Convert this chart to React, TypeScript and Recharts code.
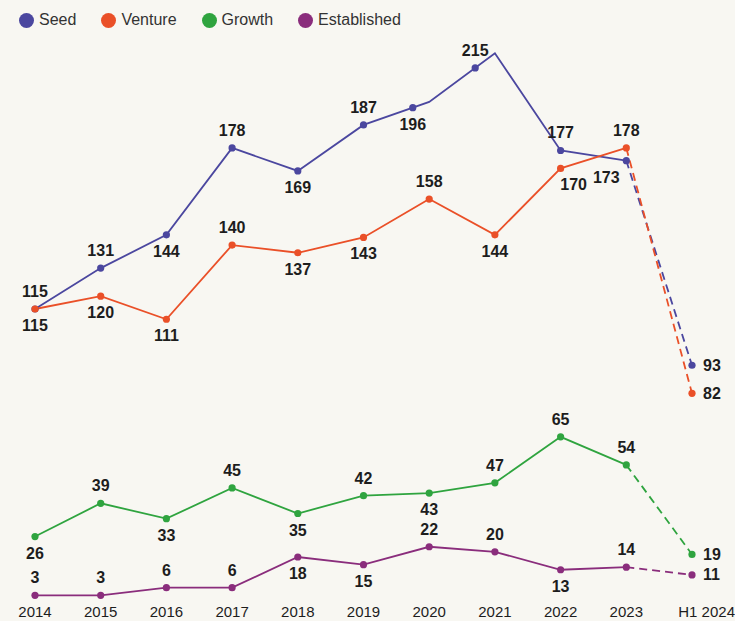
import React from "react";
import { LineChart, Line, XAxis, YAxis } from "recharts";

const years = ["2014", "2015", "2016", "2017", "2018", "2019", "2020", "2021", "2022", "2023", "H1 2024"];
const seed = [115, 131, 144, 178, 169, 187, 196, 215, 177, 173, 93];
const venture = [115, 120, 111, 140, 137, 143, 158, 144, 170, 178, 82];
const growth = [26, 39, 33, 45, 35, 42, 43, 47, 65, 54, 19];
const established = [3, 3, 6, 6, 18, 15, 22, 20, 13, 14, 11];

type Pos = "t" | "b" | "r" | "bl";

const SERIES = [
  { key: "seed", name: "Seed", values: seed, color: "#4b479f", pos: ["t", "t", "b", "t", "b", "t", "b", "t", "t", "bl", "r"] as Pos[], shift: [0, 0, 0, 0, 0, 0, 0.25, 0.3, 0, 0, 0] },
  { key: "venture", name: "Venture", values: venture, color: "#ea5028", pos: ["b", "b", "b", "t", "b", "b", "t", "b", "b", "t", "r"] as Pos[], shift: [] as number[] },
  { key: "growth", name: "Growth", values: growth, color: "#2fa43f", pos: ["b", "t", "b", "t", "b", "t", "b", "t", "t", "t", "r"] as Pos[], shift: [] as number[] },
  { key: "established", name: "Established", values: established, color: "#8a2d7c", pos: ["t", "t", "t", "t", "b", "b", "t", "t", "b", "t", "r"] as Pos[], shift: [] as number[] },
];

const last = years.length - 1;

const data = years.map((year, i) => {
  const row: Record<string, string | number | null> = { year };
  SERIES.forEach((s) => {
    row[s.key] = i < last ? s.values[i] : null;
    row[s.key + "Dash"] = i >= last - 1 ? s.values[i] : null;
  });
  return row;
});

const FONT = "'Liberation Sans', Arial, sans-serif";

function makeDot(s: (typeof SERIES)[number], dashed: boolean) {
  return (props: any) => {
    const { cx, cy, index, points, value } = props;
    if (cx == null || cy == null || value == null) return <g key={`d-${s.key}-${dashed}-${index}`} />;
    if (dashed && index !== last) return <g key={`d-${s.key}-${dashed}-${index}`} />;
    let x = cx;
    let y = cy;
    const f = s.shift[index] || 0;
    if (f && points && points[index - 1]) {
      const p = points[index - 1];
      x = cx + (p.x - cx) * f;
      y = cy + (p.y - cy) * f;
    }
    const pos = s.pos[index];
    let tx = x;
    let ty = y;
    let anchor: "middle" | "start" = "middle";
    if (pos === "t") ty = y - 12;
    else if (pos === "b") ty = y + 22;
    else if (pos === "bl") {
      ty = y + 22;
      tx = x - 20;
    } else if (pos === "r") {
      tx = x + 11;
      ty = y + 5.5;
      anchor = "start";
    }
    if (s.key === "venture" && index === 8) tx = x + 13;
    return (
      <g key={`d-${s.key}-${dashed}-${index}`}>
        <circle cx={x} cy={y} r={3.6} fill={s.color} />
        <text x={tx} y={ty} textAnchor={anchor} fontSize={16} fontWeight={600} fill="#1d1d1d" fontFamily={FONT}>
          {value}
        </text>
      </g>
    );
  };
}

const YearTick = (props: any) => {
  const { x, y, payload, index } = props;
  const isLast = index === last;
  return (
    <text x={isLast ? 735 : x} y={y + 6} textAnchor={isLast ? "end" : "middle"} fontSize={15} fill="#1d1d1d" fontFamily={FONT}>
      {payload.value}
    </text>
  );
};

export default function App() {
  return (
    <div style={{ position: "fixed", left: 0, top: 0, width: 735, height: 621, background: "#f8f7f2" }}>
      <div style={{ position: "absolute", left: 19, top: 11, display: "flex", fontFamily: FONT, fontSize: 16, color: "#333", zIndex: 2 }}>
        {SERIES.map((s) => (
          <div key={s.key} style={{ display: "flex", alignItems: "center", marginRight: 25 }}>
            <span style={{ width: 15, height: 15, borderRadius: "50%", background: s.color, display: "inline-block", marginRight: 5 }} />
            <span>{s.name}</span>
          </div>
        ))}
      </div>
      <LineChart width={735} height={621} data={data} margin={{ top: 15, right: 43, bottom: 0, left: 35 }}>
        <XAxis dataKey="year" height={18} axisLine={false} tickLine={false} tick={<YearTick />} interval={0} />
        <YAxis hide domain={[0, 230]} />
        {SERIES.map((s) => (
          <Line
            key={s.key}
            dataKey={s.key}
            stroke={s.color}
            strokeWidth={1.8}
            dot={makeDot(s, false)}
            activeDot={false}
            isAnimationActive={false}
            connectNulls={false}
          />
        ))}
        {SERIES.map((s) => (
          <Line
            key={s.key + "Dash"}
            dataKey={s.key + "Dash"}
            stroke={s.color}
            strokeWidth={1.8}
            strokeDasharray="8 5"
            dot={makeDot(s, true)}
            activeDot={false}
            isAnimationActive={false}
            legendType="none"
          />
        ))}
      </LineChart>
    </div>
  );
}
